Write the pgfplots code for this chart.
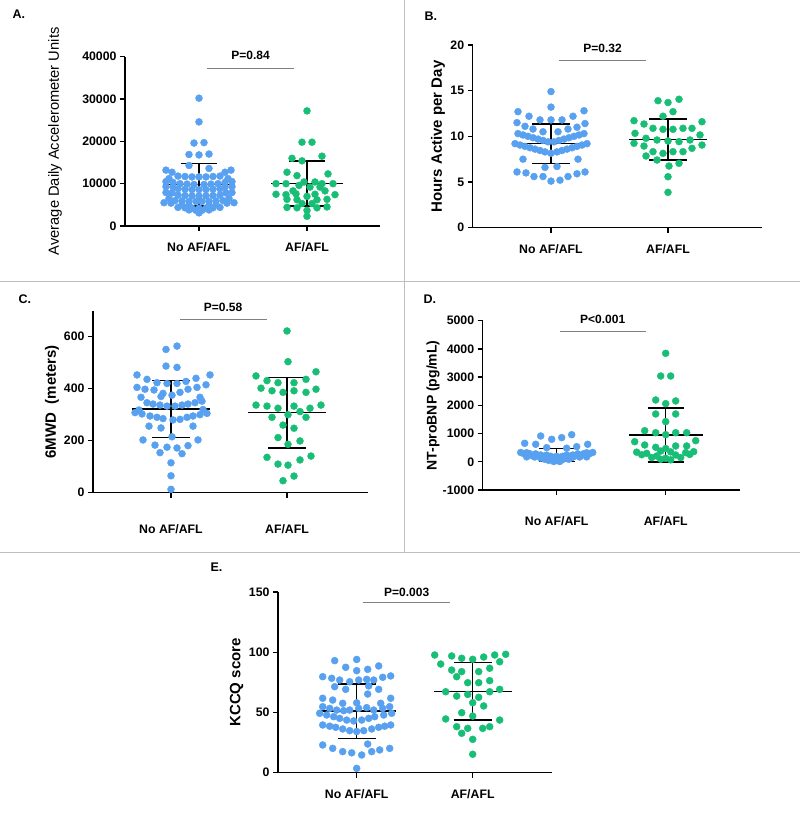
\documentclass[border=0pt]{standalone}
\usepackage{fontspec}
\setmainfont{Liberation Sans}
\usepackage{pgfplots}
\pgfplotsset{compat=1.18}
\definecolor{dotblue}{RGB}{88,160,240}
\definecolor{dotgreen}{RGB}{24,190,118}
\definecolor{framegray}{RGB}{190,190,190}

\tikzset{
  pline/.style={gray, line width=0.8pt},
  ptext/.style={font=\fontsize{12}{14}\selectfont\bfseries},
}
\pgfplotsset{
  swarm/.style={
    scale only axis, anchor=south west, axis lines=left,
    axis line style={-, line width=1.4pt},
    clip=false, tick align=outside, major tick length=5pt,
    tick style={line width=1.4pt, black},
    tick label style={font=\fontsize{12.3}{14}\selectfont\bfseries},
    /pgf/number format/assume math mode=true,
    /pgf/number format/1000 sep={},
    scaled y ticks=false, minor tick num=0,
    xticklabels={No AF/AFL, AF/AFL},
    xticklabel style={yshift=-8pt},
  },
  bdots/.style={only marks, mark=*, mark size=3.5pt, color=dotblue},
  gdots/.style={only marks, mark=*, mark size=3.5pt, color=dotgreen},
  sdbar/.style={black, line width=1.5pt, mark=none, unbounded coords=jump},
}

\begin{document}
\begin{tikzpicture}
\useasboundingbox (0,0) rectangle (800pt,823pt);
% panel frames
\draw[framegray, line width=0.8pt] (0,541.3pt) -- (800pt,541.3pt);
\draw[framegray, line width=0.8pt] (0,271pt) -- (800pt,271pt);
\draw[framegray, line width=0.8pt] (404.3pt,823pt) -- (404.3pt,271pt);
\node[anchor=west, font=\fontsize{12.5}{14}\selectfont\bfseries] at (9pt,809pt) {A.};
\node[anchor=west, font=\fontsize{12.5}{14}\selectfont\bfseries] at (421pt,807pt) {B.};
\node[anchor=west, font=\fontsize{12.5}{14}\selectfont\bfseries] at (15pt,524pt) {C.};
\node[anchor=west, font=\fontsize{12.5}{14}\selectfont\bfseries] at (420pt,524pt) {D.};
\node[anchor=west, font=\fontsize{12.5}{14}\selectfont\bfseries] at (207pt,255.5pt) {E.};

% ---------------- A
\begin{axis}[swarm, at={(125pt,597pt)}, width=255pt, height=169.3pt,
  xmin=-74, xmax=181, ymin=0, ymax=40000, xtick={0,108},
  ytick={0,10000,20000,30000,40000},
  ylabel={Average Daily Accelerometer Units},
  ylabel style={at={(axis description cs:-0.2745,0.5)}, anchor=center,
    font=\fontsize{14.7}{16}\selectfont}]
\addplot[bdots] coordinates {
(0,30200) (0,24600) (-5,19600) (5,19700) (-10,16900) (0,16800) (10,17000)
(-10,14300) (10,13600) (-33,13200) (32,13200) (-27,12700) (26,12700)
(-21,11800) (-14,11700) (-7,11600) (0,11600) (7,11600) (14,11700) (21,11800)
(-30,11200) (29,11200) (-33,10500) (-26,10300) (26,10300) (33,10500)
(-19,10000) (-12,9900) (-5,9800) (5,9800) (12,9900) (19,10000)
(-33,9300) (-26,9200) (26,9200) (33,9300)
(-21,8800) (-14,8700) (-7,8600) (0,8600) (7,8600) (14,8700) (21,8800)
(-33,7900) (-27,7800) (27,7800) (33,7900)
(-21,7300) (-14,7200) (-7,7100) (0,7100) (7,7100) (14,7200) (21,7300)
(-30,6500) (30,6500)
(-24,6000) (-17,5900) (-10,5800) (-3,5800) (3,5800) (10,5800) (17,5900) (24,6000)
(-35,5500) (-28,5400) (28,5400) (35,5500)
(-17,5000) (-10,4900) (10,4900) (17,5000)
(-21,4400) (-14,4300) (-7,4200) (0,4200) (7,4200) (14,4300) (21,4400)
(-10,3800) (-3,3700) (3,3700) (10,3800) (0,3100)};
\addplot[gdots] coordinates {
(108,27200) (103,19800) (113,19800) (93,16000) (123,16500) (103,15400)
(88,12700) (129,12300) (98,11900)
(105,10400) (116,10400) (77,10000) (87,10000) (123,10000) (134,10000) (100,9600)
(111,9200) (121,9200) (94,8300) (126,8300)
(77,7500) (87,7400) (97,7600) (116,7500) (136,7400) (108,7000)
(88,6300) (98,6200) (118,6200) (128,6300) (103,5300) (113,5300)
(88,4400) (98,4300) (118,4300) (128,4500) (108,3700) (108,2300)};
\addplot[sdbar] coordinates {(-18,14800) (18,14800) (0,nan) (0,14800) (0,4730) (0,nan)
  (-18,4730) (18,4730) (0,nan) (-36,9800) (36,9800)};
\addplot[sdbar] coordinates {(90,15360) (126,15360) (108,nan) (108,15360) (108,4730) (108,nan)
  (90,4730) (126,4730) (108,nan) (72,10000) (144,10000)};
\draw[pline] (axis cs:8,37330) -- (axis cs:95,37330);
\node[ptext] at (axis cs:51.5,40400) {P=0.84};
\end{axis}

% ---------------- B
\begin{axis}[swarm, at={(472.7pt,595.3pt)}, width=289pt, height=182.7pt,
  xmin=-78.3, xmax=210.7, ymin=0, ymax=20, xtick={0,117},
  ytick={0,5,10,15,20},
  ylabel={Hours Active per Day},
  ylabel style={at={(axis description cs:-0.12,0.5)}, anchor=center,
    font=\fontsize{15}{17}\selectfont\bfseries}]
\addplot[bdots] coordinates {
(0,14.9) (0,13.2) (-33,12.7) (33,12.8) (-22,12.2) (22,12.2) (-11,11.8) (0,11.8) (11,11.8)
(-34,11.5) (34,11.4) (-26,11.1) (26,11.0) (-18,10.8) (17,10.8) (-8,10.5) (7,10.5)
(-33,10.3) (-28,10.15) (-23,10.0) (-18,9.85) (-13,9.7) (-8,9.55) (-3,9.4)
(3,9.4) (8,9.55) (13,9.7) (18,9.85) (23,10.0) (28,10.15) (33,10.3)
(-36,9.2) (-31,9.05) (-26,8.9) (-21,8.75) (-16,8.6) (-11,8.45) (-6,8.3) (0,8.15)
(6,8.3) (11,8.45) (16,8.6) (21,8.75) (26,8.9) (31,9.05) (36,9.2)
(-28,7.5) (27,7.5) (-6,6.6) (6,6.7)
(-34,6.1) (-25,6.0) (-17,5.6) (-8,5.6) (0,5.1) (9,5.2) (17,5.6) (26,5.9) (34,6.1)};
\addplot[gdots] coordinates {
(107,13.9) (117,13.7) (128,14.06) (122,12.7) (112,12.2)
(83,11.71) (93,11.35) (102,10.88) (112,10.77) (122,10.77) (132,10.88) (141,10.88) (151,11.6)
(84,10.33) (95,9.79) (106,9.6) (117,9.49) (128,9.42) (139,9.6) (149,10.15)
(83,9.24) (93,8.94) (102,8.32) (112,8.14) (122,8.32) (132,8.32) (141,8.69) (151,9.05)
(95,7.85) (106,7.41) (118,6.75) (128,7.05) (117,5.58) (117,3.87)};
\addplot[sdbar] coordinates {(-19,11.35) (19,11.35) (0,nan) (0,11.35) (0,7.05) (0,nan)
  (-19,7.05) (19,7.05) (0,nan) (-38,9.24) (38,9.24)};
\addplot[sdbar] coordinates {(98,11.9) (136,11.9) (117,nan) (117,11.9) (117,7.41) (117,nan)
  (98,7.41) (136,7.41) (117,nan) (78,9.67) (156,9.67)};
\draw[pline] (axis cs:8,18.36) -- (axis cs:95,18.36);
\node[ptext] at (axis cs:51.5,19.67) {P=0.32};
\end{axis}

% ---------------- C
\begin{axis}[swarm, at={(93pt,330.3pt)}, width=275pt, height=182pt,
  xmin=-78, xmax=197, ymin=0, ymax=700, xtick={0,116},
  ytick={0,200,400,600},
  xticklabel style={yshift=-15pt},
  ylabel={6MWD\ \ (meters)},
  ylabel style={at={(axis description cs:-0.149,0.5)}, anchor=center,
    font=\fontsize{15}{17}\selectfont\bfseries}]
\addplot[bdots] coordinates {
(-5,551) (6,564) (-5,487) (6,482) (-34,453) (39,453)
(-24,436) (-14,423) (-4,420) (6,420) (15,428) (25,440)
(-34,405) (-26,398) (-17,395) (-8,382) (9,386) (17,398) (26,405) (35,415)
(-30,367) (-10,370) (1,375) (29,367)
(-24,346) (-18,341) (-11,337) (-4,333) (4,333) (11,337) (17,341) (24,346) (31,352)
(-36,308) (-29,303) (-21,295) (-14,290) (-8,285) (2,280) (9,282) (16,290) (22,295) (29,300) (36,305)
(-32,318) (32,320)
(-22,256) (-10,249) (22,256)
(-28,203) (1,215) (27,203)
(-16,183) (-4,175) (6,172) (17,181)
(-11,154) (11,150) (0,115) (0,65) (0,13)};
\addplot[gdots] coordinates {
(116,622) (117,504)
(85,449) (96,431) (107,423) (123,423) (135,436) (145,465)
(90,402) (101,392) (112,386) (123,392) (135,386) (145,398)
(85,337) (96,333) (107,325) (123,333) (129,312) (139,325) (150,337)
(101,290) (117,300) (135,290)
(112,260) (123,248) (107,212) (129,199) (117,186)
(96,136) (107,110) (117,106) (129,126) (140,141)
(112,46) (123,64)};
\addplot[sdbar] coordinates {(-19,431) (19,431) (0,nan) (0,431) (0,213) (0,nan)
  (-19,213) (19,213) (0,nan) (-39,322) (39,322)};
\addplot[sdbar] coordinates {(97,443) (135,443) (116,nan) (116,443) (116,171) (116,nan)
  (97,171) (135,171) (116,nan) (77,309) (155,309)};
\draw[pline] (axis cs:9,668) -- (axis cs:96,668);
\node[ptext] at (axis cs:52,714) {P=0.58};
\end{axis}

% ---------------- D
\begin{axis}[swarm, at={(482.7pt,333pt)}, width=257.3pt, height=169.3pt,
  xmin=-74, xmax=183.3, ymin=-1000, ymax=5000, xtick={0,109},
  ytick={-1000,0,1000,2000,3000,4000,5000},
  xticklabel style={yshift=-10pt},
  ylabel={NT-proBNP (pg/mL)},
  ylabel style={at={(axis description cs:-0.193,0.5)}, anchor=center,
    font=\fontsize{14}{16}\selectfont\bfseries}]
\addplot[bdots] coordinates {
(-16,914) (-5,797) (5,855) (15,960)
(-32,655) (-21,620) (20,535) (31,620) (-10,500) (10,480)
(-36,330) (-30,320) (30,320) (36,330)
(-33,290) (-27,285) (-21,280) (21,280) (27,285) (33,290)
(-28,250) (-22,245) (-16,240) (-10,235) (10,235) (16,240) (22,245) (28,250)
(-24,210) (-18,205) (-12,200) (-6,195) (0,190) (6,195) (12,200) (18,205) (24,210)
(-30,175) (-22,170) (-15,165) (-8,160) (-2,155) (4,155) (10,160) (16,165) (23,170) (30,175)
(-16,130) (-10,125) (-4,120) (2,120) (8,125) (14,130)
(-12,90) (-6,85) (0,80) (6,85) (12,90)
(-8,50) (-2,45) (4,50) (-3,10) (3,10)};
\addplot[gdots] coordinates {
(109,3844) (104,3040) (114,3040) (99,2190) (119,2155) (109,2060) (99,1694) (119,1694) (109,1422)
(88,1102) (99,1031) (119,1031) (130,1031) (109,960)
(78,712) (88,595) (99,514) (109,470) (119,560) (130,560) (139,748)
(80,340) (90,300) (100,205) (109,124) (119,240) (129,323) (137,358)
(85,250) (95,150) (104,90) (114,70) (124,150) (133,260) (104,380) (114,350)};
\addplot[sdbar] coordinates {(-18,464) (18,464) (0,nan) (0,464) (0,4) (0,nan)
  (-18,4) (18,4) (0,nan) (-36,241) (36,241)};
\addplot[sdbar] coordinates {(91,1907) (127,1907) (109,nan) (109,1907) (109,-7) (109,nan)
  (91,-7) (127,-7) (109,nan) (72,950) (146,950)};
\draw[pline] (axis cs:3.3,4636) -- (axis cs:89.3,4636);
\node[ptext] at (axis cs:46,5057) {P<0.001};
\end{axis}

% ---------------- E
\begin{axis}[swarm, at={(278pt,50.3pt)}, width=273.7pt, height=180.7pt,
  xmin=-78.7, xmax=195, ymin=0, ymax=150, xtick={0,116},
  ytick={0,50,100,150},
  ylabel={KCCQ score},
  ylabel style={at={(axis description cs:-0.151,0.5)}, anchor=center,
    font=\fontsize{15}{17}\selectfont\bfseries}]
\addplot[bdots] coordinates {
(-22,93) (0,94) (-11,87.5) (0,84.7) (11,85.8) (22,88.6)
(-34,79.7) (-25,78.4) (-17,76.9) (-7,75.5) (2,76.9) (10,77.5) (17,76.9) (26,79.2) (34,80.3)
(-22,71.4) (-11,69.2) (12,72) (22,69.2)
(-34,61.8) (-24,60.3) (-14,57.6) (0,58) (11,65.3) (24,57.6) (34,61.8)
(-34,54.8) (-27,53.4) (-20,52) (-13,51.5) (-7,52) (2,53.4) (10,54) (17,52) (26,53.4) (33,54.8)
(-37,49.3) (-30,47.9) (-23,46.5) (-17,45.1) (-10,43.7) (-3,43) (5,43.7) (12,45.1) (18,46.5) (27,47.9) (35,49.3)
(-34,39.6) (-27,38.6) (-21,37.7) (-14,36.3) (-7,34.9) (0,34.2) (7,34.9) (15,36.3) (22,37.7) (28,38.6) (34,39.6)
(-34,23) (-24,20.2) (-14,17.5) (-5,16.5) (5,14.7) (15,17.5) (23,18.9) (33,20.2) (11,23.8) (0,3.6)};
\addplot[gdots] coordinates {
(78,97.7) (95,96.9) (105,95) (116,94.1) (127,96) (138,97.7) (149,98.3) (143,92.1)
(84,90.2) (95,85.2) (105,83.9) (122,83.9) (133,86.7)
(100,79.7) (111,74.7) (122,74.7) (133,76.4)
(89,67.2) (100,63.6) (111,65) (122,62.6) (133,67.2) (143,69.2)
(116,58.1) (127,55.4) (105,49.8) (116,47) (89,44.6) (143,43.7)
(100,38.2) (111,36.8) (126,36.8) (133,38.2) (105,32.7) (116,27.7) (116,15.3)};
\addplot[sdbar] coordinates {(-19,73.6) (19,73.6) (0,nan) (0,73.6) (0,28.5) (0,nan)
  (-19,28.5) (19,28.5) (0,nan) (-39,51.2) (39,51.2)};
\addplot[sdbar] coordinates {(97,91.3) (135,91.3) (116,nan) (116,91.3) (116,43.7) (116,nan)
  (97,43.7) (135,43.7) (116,nan) (77,67.2) (155,67.2)};
\draw[pline] (axis cs:6.3,141.1) -- (axis cs:93.3,141.1);
\node[ptext] at (axis cs:50,150) {P=0.003};
\end{axis}
\end{tikzpicture}
\end{document}
